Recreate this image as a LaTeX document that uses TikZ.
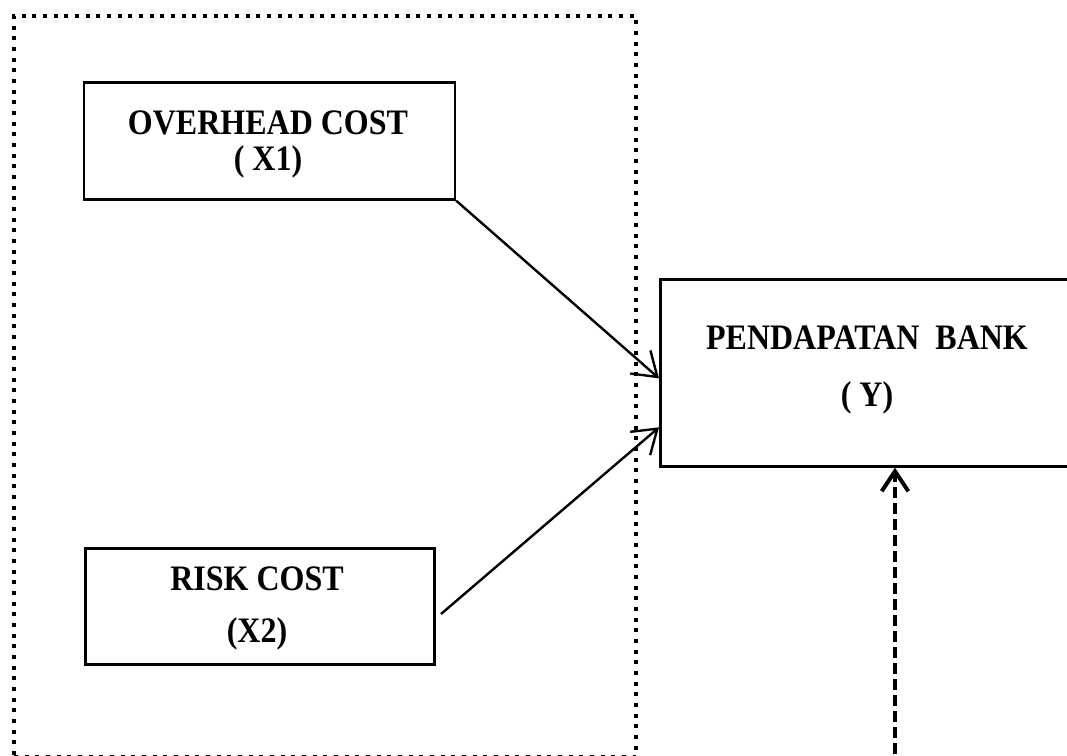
\documentclass[tikz,border=0pt]{standalone}
\usepackage{fontspec}
\setmainfont{Liberation Serif}
\usetikzlibrary{arrows.meta}
\newcommand{\tallbf}[1]{\scalebox{1}[1.12]{#1}}
\tikzset{
  boxnode/.style={draw=black, line width=2pt, rectangle, inner sep=0pt, anchor=north west},
  lbl/.style={anchor=base, inner sep=0pt, font=\fontsize{24}{28}\selectfont\bfseries},
  frameline/.style={draw=black, line width=3pt, dash pattern=on 3pt off 5pt},
  conn/.style={draw=black, line width=1.8pt, -{Straight Barb[length=17pt,width=23pt,line width=1.8pt]}},
  dconn/.style={draw=black, line width=3.2pt, dash pattern=on 8.25pt off 3.75pt, -{Straight Barb[length=15pt,width=20pt,line width=3pt]}}
}
\begin{document}
\begin{tikzpicture}[x=0.75pt,y=-0.75pt]
\clip (0,0) rectangle (1067,756);
% dotted frame
\node[frameline, rectangle, inner sep=0pt, anchor=north west, minimum width=622*0.75pt, minimum height=741*0.75pt] (frame) at (12,14) {};
% boxes
\node[boxnode, minimum width=371*0.75pt, minimum height=117*0.75pt] (X1) at (82.5,81) {};
\node[boxnode, minimum width=349*0.75pt, minimum height=116*0.75pt] (X2) at (84,547) {};
\node[boxnode, minimum width=416*0.75pt, minimum height=187*0.75pt] (Y) at (659,278) {};
% labels
\node[lbl] (t1a) at (268,135) {\tallbf{OVERHEAD COST}};
\node[lbl] (t1b) at (268,171) {\tallbf{( X1)}};
\node[lbl] (t2a) at (257,590) {\tallbf{RISK COST}};
\node[lbl] (t2b) at (257,642) {\tallbf{(X2)}};
\node[lbl] (tya) at (867,349) {\tallbf{PENDAPATAN\ \ BANK}};
\node[lbl] (tyb) at (867,406) {\tallbf{( Y)}};
% connectors
\coordinate (s2) at (441,614);
\coordinate (d0) at (895,770);
\draw[conn] (X1.south east) -- ([yshift=-5.5*0.75pt]Y.west);
\draw[conn] (s2) -- ([yshift=-54.5*0.75pt]Y.west);
\draw[dconn] (d0) -- (d0 |- Y.south);
\end{tikzpicture}
\end{document}
